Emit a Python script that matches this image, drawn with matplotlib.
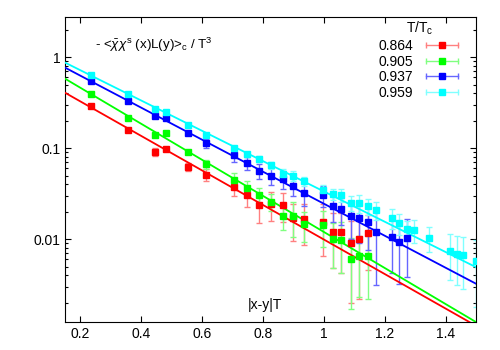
import numpy as np
import matplotlib
matplotlib.use('Agg')
import matplotlib.pyplot as plt
from matplotlib.lines import Line2D
from matplotlib.legend_handler import HandlerLine2D
from matplotlib.ticker import FixedLocator, FuncFormatter, LogLocator, NullLocator

plt.rcParams['font.family'] = ['Liberation Sans', 'DejaVu Sans']
plt.rcParams['mathtext.fontset'] = 'custom'
plt.rcParams['mathtext.rm'] = 'Liberation Sans'
plt.rcParams['mathtext.it'] = 'Liberation Sans:italic'

# |x-y|T
dist = [0.237, 0.358, 0.446, 0.483, 0.555, 0.614, 0.704, 0.748, 0.787, 0.827,
        0.867, 0.899, 0.934, 0.997, 1.029, 1.058, 1.088, 1.115, 1.144, 1.172,
        1.223, 1.248, 1.272, 1.297, 1.344, 1.413, 1.436, 1.458, 1.499]

temps = ['0.864', '0.905', '0.937', '0.959']

red = [0.290, 0.158, 0.0912, 0.0982, 0.0623, 0.0509, 0.0370, 0.0305, 0.0237, 0.0243,
       0.0238, 0.0171, 0.0166, 0.0155, 0.0120, 0.0119, 0.0090, 0.0100, 0.0116]
red_err = [0.004, 0.003, 0.009, 0.004, 0.006, 0.0075, 0.0075, 0.008, 0.0085, 0.0085,
           0.0083, 0.0075, 0.008, 0.009, 0.0072, 0.0076, 0.007, 0.0078, 0.007]

green = [0.389, 0.217, 0.141, 0.145, 0.0899, 0.0664, 0.0450, 0.0362, 0.0305, 0.0258,
         0.0181, 0.0181, 0.0146, 0.0143, 0.0100, 0.0098, 0.0060, 0.0066, 0.0065]
green_err = [0.004, 0.003, 0.003, 0.003, 0.004, 0.0073, 0.0077, 0.0071, 0.0062, 0.0055,
             0.0055, 0.0075, 0.0053, 0.006, 0.0052, 0.0055, 0.0043, 0.0043, 0.0043]

blue = [0.549, 0.329, 0.227, 0.216, 0.145, 0.113, 0.0832, 0.0680, 0.0565, 0.0494,
        0.0458, 0.0387, 0.0319, 0.0303, 0.0231, 0.0213, 0.0181, 0.0170, 0.0156, 0.0119,
        0.0106, 0.0094, 0.0102]
blue_err = [0.005, 0.004, 0.004, 0.004, 0.007, 0.012, 0.012, 0.011, 0.011, 0.0105,
            0.010, 0.009, 0.009, 0.008, 0.0077, 0.007, 0.008, 0.008, 0.008, 0.0088,
            0.0063, 0.0062, 0.0064]

cyan = [0.634, 0.389, 0.268, 0.252, 0.179, 0.140, 0.101, 0.0855, 0.0759, 0.0651,
        0.0519, 0.0497, 0.0435, 0.0347, 0.0313, 0.0305, 0.0251, 0.0248, 0.0231, 0.0209,
        0.0170, 0.0149, 0.0128, 0.0126, 0.0104, 0.0075, 0.0069, 0.0067, 0.0058]
cyan_err = [0.005, 0.004, 0.004, 0.004, 0.004, 0.004, 0.004, 0.005, 0.006, 0.006,
            0.0065, 0.006, 0.005, 0.0047, 0.0045, 0.005, 0.0048, 0.0055, 0.0048, 0.0047,
            0.0042, 0.0038, 0.0032, 0.0035, 0.0032, 0.0039, 0.0038, 0.0039, 0.004]

# fit: A * exp(-m * |x-y|T)
fit_amp = [0.783, 1.150, 1.409, 1.549]
fit_rate = [4.368, 4.561, 4.050, 3.834]

colors = ['#ff0000', '#00ff00', '#0000ff', '#00ffff']
err_colors = ['#ff8080', '#80ff80', '#6666ff', '#80ffff']

series = [(red, red_err), (green, green_err), (blue, blue_err), (cyan, cyan_err)]

fig = plt.figure(figsize=(5, 3.5), dpi=100)
ax = fig.add_axes([0.13, 0.08, 0.822, 0.871])

xfit = np.linspace(0.15, 1.5, 200)
handles = []
hmap = {}
for i, (vals, errs) in enumerate(series):
    n = len(vals)
    ax.errorbar(dist[:n], vals, yerr=errs, fmt='none', ecolor=err_colors[i],
                elinewidth=1, capsize=2.5, capthick=1, zorder=2)
    ax.plot(dist[:n], vals, 's', color=colors[i], markersize=5, zorder=4)
    ax.plot(xfit, fit_amp[i] * np.exp(-fit_rate[i] * xfit), '-', color=colors[i],
            lw=1.3, zorder=3)
    bar = Line2D([], [], color=err_colors[i], lw=1, marker='|', markersize=5)
    sq = Line2D([], [], color=colors[i], marker='s', markersize=5, linestyle='none')
    hmap[bar] = HandlerLine2D(numpoints=2)
    hmap[sq] = HandlerLine2D(numpoints=1)
    handles.append((bar, sq))

ax.set_yscale('log')
ax.set_xlim(0.15, 1.5)
ax.set_ylim(0.00123, 2.75)

ax.xaxis.set_major_locator(FixedLocator([0.2, 0.4, 0.6, 0.8, 1.0, 1.2, 1.4]))
ax.xaxis.set_major_formatter(FuncFormatter(lambda v, p: '%g' % v))
ax.xaxis.set_minor_locator(NullLocator())
ax.yaxis.set_major_locator(LogLocator(base=10))
ax.yaxis.set_minor_locator(LogLocator(base=10, subs=np.arange(2, 10)))
ax.yaxis.set_major_formatter(FuncFormatter(lambda v, p: '%g' % v))
ax.tick_params(which='both', direction='in', top=True, right=True, labelsize=10)
ax.tick_params(which='major', length=4, width=0.8)
ax.tick_params(which='minor', length=2.5, width=0.8)

ax.text(0.249, 1.35, r'- <$\bar{\chi}\chi^{\mathrm{s}}$ (x)L(y)>$_\mathrm{c}$ / T$^3$',
        fontsize=9.6, va='center', ha='left')
ax.text(0.487, 0.056, '|x-y|T', transform=ax.transAxes, fontsize=10,
        ha='center', va='center')

leg = ax.legend(handles, temps, handler_map=hmap, title=r'T/T$_\mathrm{c}$', loc='upper right',
                bbox_to_anchor=(0.972, 1.0), borderaxespad=0, borderpad=0.2,
                frameon=False, markerfirst=False, fontsize=10, title_fontsize=10,
                handlelength=2.9, labelspacing=0.12, handletextpad=0.6)

fig.savefig('out.png', dpi=100)
